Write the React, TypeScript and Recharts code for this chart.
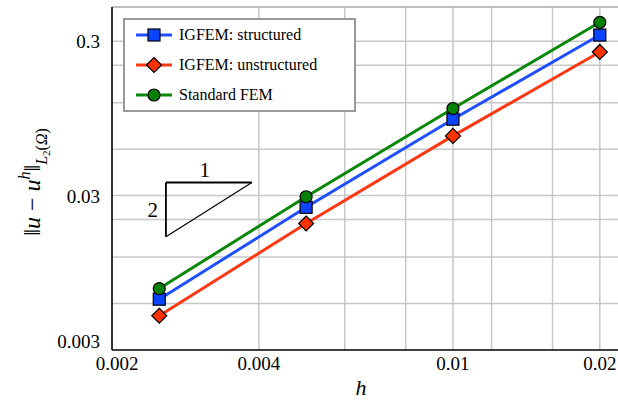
import { CartesianGrid, Legend, Line, LineChart, ReferenceDot, ReferenceLine, XAxis, YAxis } from 'recharts'

const FONT = "'Liberation Serif', 'Times New Roman', Times, 'DejaVu Serif', serif"

// mesh sizes and L2 errors
const hValues = [0.0025, 0.005, 0.01, 0.02]
const igfemStructured = [0.0064, 0.0252, 0.0938, 0.329]
const igfemUnstructured = [0.005, 0.0198, 0.0731, 0.2557]
const standardFem = [0.0075, 0.0295, 0.11, 0.398]

const xTicks = [0.002, 0.004, 0.01, 0.02]
const yTicks = [0.003, 0.03, 0.3]
const xDomain = [0.002, 0.022]
const yDomain = [0.003, 0.5]
const xGridValues = [0.004, 0.006, 0.008, 0.01, 0.012, 0.014, 0.016, 0.018, 0.02]
const yGridValues = [
  0.006, 0.009, 0.012, 0.015, 0.018, 0.021, 0.024, 0.027, 0.03,
  0.06, 0.09, 0.12, 0.15, 0.18, 0.21, 0.24, 0.27, 0.3,
]

// slope triangle (rate 2) corners
const triX = [0.00258, 0.00387]
const triY = [0.01623, 0.0365]

const series = [
  { key: 'structured', name: 'IGFEM: structured', color: '#1f4fff', fill: '#0a44ff', marker: 'square' },
  { key: 'unstructured', name: 'IGFEM: unstructured', color: '#ff3814', fill: '#ff3300', marker: 'diamond' },
  { key: 'fem', name: 'Standard FEM', color: '#0a880a', fill: '#078007', marker: 'circle' },
]

const data = hValues.map((h, i) => ({
  h,
  structured: igfemStructured[i],
  unstructured: igfemUnstructured[i],
  fem: standardFem[i],
}))

function Marker({ shape, cx, cy, fill }: { shape: string; cx: number; cy: number; fill: string }) {
  if (shape === 'square') {
    return <rect x={cx - 6} y={cy - 6} width={12} height={12} fill={fill} stroke="#000" strokeWidth={1.2} />
  }
  if (shape === 'diamond') {
    return (
      <polygon
        points={`${cx},${cy - 7.5} ${cx + 7.5},${cy} ${cx},${cy + 7.5} ${cx - 7.5},${cy}`}
        fill={fill}
        stroke="#000"
        strokeWidth={1.2}
      />
    )
  }
  return <circle cx={cx} cy={cy} r={6} fill={fill} stroke="#000" strokeWidth={1.2} />
}

function XTick({ x, y, payload }: any) {
  const shift = payload.value === 0.002 ? 5 : 0
  return (
    <text x={x + shift} y={y + 20} textAnchor="middle" fontSize={19} style={{ fontFamily: FONT }} fill="#000">
      {String(payload.value)}
    </text>
  )
}

function YTick({ x, y, payload }: any) {
  const shift = payload.value === 0.003 ? 9 : 0
  return (
    <text x={x - 12} y={y + 7 - shift} textAnchor="end" fontSize={19} style={{ fontFamily: FONT }} fill="#000">
      {String(payload.value)}
    </text>
  )
}

function LegendBox() {
  return (
    <div
      style={{
        border: '2px solid #999',
        background: '#fff',
        width: 229,
        fontFamily: FONT,
        fontSize: 16,
        color: '#000',
      }}
    >
      {series.map((s) => (
        <div key={s.key} style={{ height: 30, display: 'flex', alignItems: 'center' }}>
          <svg width={36} height={18} style={{ marginLeft: 11, marginRight: 7 }}>
            <line x1={0} y1={9} x2={36} y2={9} stroke={s.color} strokeWidth={3} />
            <Marker shape={s.marker} cx={18} cy={9} fill={s.fill} />
          </svg>
          <span>{s.name}</span>
        </div>
      ))}
    </div>
  )
}

function YLabel() {
  return (
    <text
      transform="translate(40,182) rotate(-90)"
      textAnchor="middle"
      style={{ fontFamily: FONT }}
      fontSize={24}
      fill="#000"
    >
      <tspan>‖</tspan>
      <tspan fontStyle="italic">u</tspan>
      <tspan> − </tspan>
      <tspan fontStyle="italic">u</tspan>
      <tspan fontStyle="italic" fontSize={16} dy={-10}>h</tspan>
      <tspan dy={10}>‖</tspan>
      <tspan fontStyle="italic" fontSize={16} dy={7}>L</tspan>
      <tspan fontSize={11} dy={3}>2</tspan>
      <tspan fontSize={16} dy={-3}>(</tspan>
      <tspan fontStyle="italic" fontSize={16}>Ω</tspan>
      <tspan fontSize={16}>)</tspan>
    </text>
  )
}

export default function App() {
  return (
    <div style={{ position: 'absolute', left: 0, top: 0, width: 618, height: 400, overflow: 'hidden', background: '#fff' }}>
      <LineChart width={620} height={400} data={data} margin={{ top: 7, right: 0, bottom: 0, left: 0 }}>
        <CartesianGrid
          stroke="#c8c8c8"
          strokeWidth={1.5}
          horizontalValues={yGridValues}
          verticalValues={xGridValues}
        />
        <XAxis
          dataKey="h"
          type="number"
          scale="log"
          domain={xDomain}
          ticks={xTicks}
          allowDataOverflow
          height={50}
          tickSize={0}
          tickMargin={0}
          tick={<XTick />}
          axisLine={{ stroke: '#000', strokeWidth: 1.6 }}
          label={{
            content: ({ viewBox }: any) => (
              <text
                x={viewBox.x + viewBox.width / 2 - 5}
                y={viewBox.y + 45}
                textAnchor="middle"
                style={{ fontFamily: FONT }}
                fontStyle="italic"
                fontSize={22}
                fill="#000"
              >
                h
              </text>
            ),
          }}
        />
        <YAxis
          type="number"
          scale="log"
          domain={yDomain}
          ticks={yTicks}
          allowDataOverflow
          width={112}
          tickSize={0}
          tickMargin={0}
          tick={<YTick />}
          axisLine={{ stroke: '#000', strokeWidth: 1.6 }}
          label={{ content: () => <YLabel /> }}
        />
        <ReferenceLine y={yDomain[1]} stroke="#aaa" strokeWidth={1.5} />

        <ReferenceLine segment={[{ x: triX[0], y: triY[1] }, { x: triX[1], y: triY[1] }]} stroke="#000" strokeWidth={1.8} />
        <ReferenceLine segment={[{ x: triX[0], y: triY[1] }, { x: triX[0], y: triY[0] }]} stroke="#000" strokeWidth={1.8} />
        <ReferenceLine segment={[{ x: triX[0], y: triY[0] }, { x: triX[1], y: triY[1] }]} stroke="#000" strokeWidth={1.2} />
        <ReferenceDot
          x={0.0031}
          y={triY[1]}
          r={0}
          fill="none"
          stroke="none"
          label={{ value: '1', position: 'top', offset: 5, fontSize: 21, style: { fontFamily: FONT }, fill: '#000' }}
        />
        <ReferenceDot
          x={triX[0]}
          y={0.0243}
          r={0}
          fill="none"
          stroke="none"
          label={{ value: '2', position: 'left', offset: 8, fontSize: 21, style: { fontFamily: FONT }, fill: '#000' }}
        />

        {series.map((s) => (
          <Line
            key={s.key}
            type="linear"
            dataKey={s.key}
            name={s.name}
            stroke={s.color}
            strokeWidth={3}
            isAnimationActive={false}
            dot={(props: any) => (
              <Marker key={`${s.key}-${props.index}`} shape={s.marker} cx={props.cx} cy={props.cy} fill={s.fill} />
            )}
          />
        ))}

        <Legend
          layout="vertical"
          align="center"
          verticalAlign="middle"
          wrapperStyle={{ left: 123, top: 18, width: 'auto' }}
          content={() => <LegendBox />}
        />
      </LineChart>
    </div>
  )
}
